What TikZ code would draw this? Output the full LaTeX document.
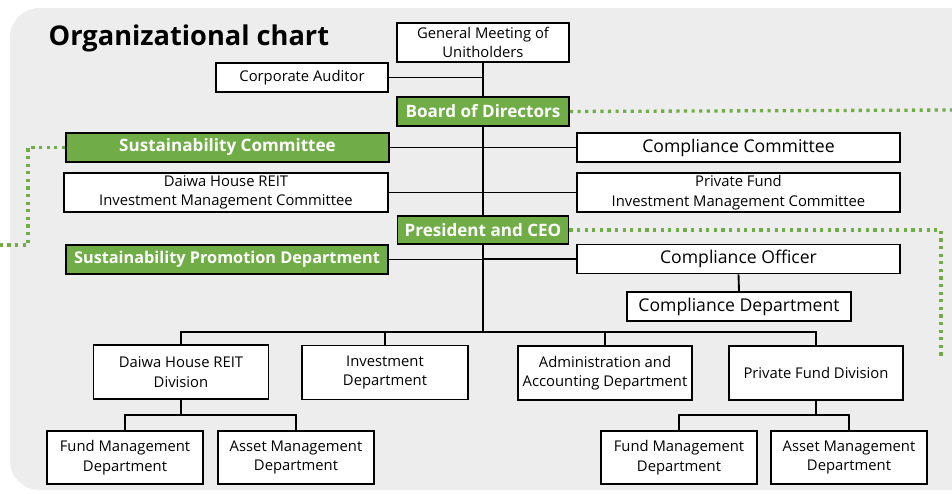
\documentclass[tikz,border=0pt]{standalone}
\usepackage{fontspec}
\setmainfont{Open Sans}
\definecolor{bggray}{HTML}{EDEDED}
\definecolor{orggreen}{HTML}{70AD47}
\begin{document}
\begin{tikzpicture}[x=0.75pt, y=-0.75pt,
  box/.style={draw, line width=1.4pt, fill=white, inner sep=0pt, align=center, font=\fontsize{11.1}{14.5}\selectfont},
  bigbox/.style={box, font=\fontsize{13.2}{15}\selectfont},
  greenbox/.style={box, fill=orggreen, text=white, font=\fontsize{12.8}{14}\selectfont\bfseries},
  sz/.style 2 args={minimum width=#1*0.75pt, minimum height=#2*0.75pt},
  link/.style={line width=1.4pt},
  dotline/.style={orggreen, line width=2.5pt, dash pattern=on 2.4pt off 3.3pt}]
\useasboundingbox (0,0) rectangle (952,493);
\clip (0,0) rectangle (952,493);
\fill[bggray, rounded corners=22pt] (10,8) rectangle (1000,490);
\node[anchor=base west, font=\fontsize{20.4}{22}\selectfont\bfseries] (title) at (44,45){Organizational chart};
\node[box, sz={172}{39}] (gm) at (483,42.5){General Meeting of\\Unitholders};
\node[box, sz={172}{29}] (ca) at (302,77.5){Corporate Auditor};
\node[greenbox, sz={172}{29}] (bod) at (483,111.5){Board of Directors};
\node[greenbox, sz={323}{29}] (sc) at (227.5,147.5){Sustainability Committee};
\node[bigbox, sz={323}{29}] (cc) at (738.5,147.5){Compliance Committee};
\node[box, sz={324}{39}] (dhimc) at (226,192.5){Daiwa House REIT\\Investment Management Committee};
\node[box, sz={323}{39}] (pfimc) at (738.5,192.5){Private Fund\\Investment Management Committee};
\node[greenbox, sz={171}{28}] (ceo) at (483,230){President and CEO};
\node[greenbox, sz={322}{29}, font=\fontsize{12.2}{14}\selectfont\bfseries] (spd) at (227,259.5){Sustainability Promotion Department};
\node[bigbox, sz={323}{29}] (co) at (738.5,259){Compliance Officer};
\node[bigbox, sz={224}{29}] (cd) at (739,306.5){Compliance Department};
\node[box, sz={175}{54}] (dhd) at (181,372){Daiwa House REIT\\Division};
\node[box, sz={166}{54}] (inv) at (385,372.5){Investment\\Department};
\node[box, sz={174}{54}] (adm) at (605,373){Administration and\\Accounting Department};
\node[box, sz={174}{54}] (pfd) at (816,373){Private Fund Division};
\node[box, sz={156}{53}] (fm1) at (125,457.5){Fund Management\\Department};
\node[box, sz={156}{53}] (am1) at (296,457.5){Asset Management\\Department};
\node[box, sz={156}{53}] (fm2) at (679,457.5){Fund Management\\Department};
\node[box, sz={156}{53}] (am2) at (849,457.5){Asset Management\\Department};
\coordinate (bus) at (483,332);
\coordinate (sub1) at (181,415);
\coordinate (sub2) at (816,415);
\coordinate (bodR) at (952,110);
\coordinate (ceoR) at (941,230);
\coordinate (ceoD) at (941,354);
\coordinate (ceoE) at (947,354);
\coordinate (scL) at (28,147.5);
\coordinate (scD) at (28,245);
\coordinate (scE) at (0,245);
\draw[dotline](bod.east) -- (bodR);
\draw[dotline](ceo.east) -- (ceoR) -- (ceoD) -- (ceoE);
\draw[dotline](sc.west) -- (scL) -- (scD) -- (scE);
\draw[link](gm.south) -- (bod.north);
\draw[link](bod.south) -- (ceo.north);
\draw[link](ceo.south) -- (bus);
\draw[link](ca.east) -- (ca.east -| gm.south);
\draw[link](sc.east) -- (cc.west);
\draw[link](dhimc.east) -- (pfimc.west);
\draw[link](spd.east) -- (spd.east -| ceo.south);
\draw[link](co.west) -- (co.west -| ceo.south);
\draw[link](co.south) -- (cd.north);
\draw[link](dhd.north) |- (pfd.north |- bus) -- (pfd.north);
\draw[link](inv.north) -- (inv.north |- bus);
\draw[link](adm.north) -- (adm.north |- bus);
\draw[link](dhd.south) -- (sub1);
\draw[link](fm1.north) |- (am1.north |- sub1) -- (am1.north);
\draw[link](pfd.south) -- (sub2);
\draw[link](fm2.north) |- (am2.north |- sub2) -- (am2.north);
\end{tikzpicture}
\end{document}
